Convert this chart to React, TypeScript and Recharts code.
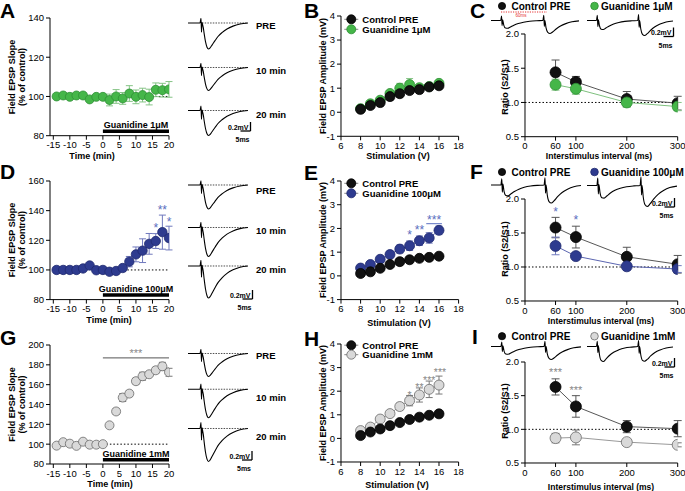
import React from 'react';
import {
  ComposedChart, LineChart, Line, XAxis, YAxis, ErrorBar,
  ReferenceLine, ReferenceDot, Legend,
} from 'recharts';

const FONT = '"Liberation Sans", Arial, Helvetica, sans-serif';

// ---- time course (A, D, G), % of control ----
const minutes = [-14, -12, -10, -8, -6, -4, -2, 0, 2, 4, 6, 8, 10, 12, 14, 16, 18, 20];
const slope1uM = [100, 100.5, 99.8, 100.5, 100.5, 98.5, 99.8, 99.8, 98.2, 100, 99, 101.5, 99.8, 100.7, 99.7, 103.4, 103.2, 103.6];
const slope1uMErr = [0.5, 0.5, 0.5, 0.5, 0.5, 0.8, 0.6, 0.6, 3, 3.5, 3, 4, 3.5, 3.5, 4, 3.5, 3.5, 4];
const slope100uM = [100, 100, 100, 100, 101, 103, 99.8, 100, 98.8, 99.3, 101.3, 105.6, 110.5, 113, 117.6, 119.5, 125.5, 121.5];
const slope100uMErr = [0.5, 0.5, 0.5, 0.5, 1, 1.5, 1, 1, 2, 2, 2, 3.5, 5, 8, 7, 5, 11.5, 8];
const slope1mM = [98.5, 102, 100.5, 98.3, 102.5, 99.5, 99.5, 100, 119, 133, 147, 151, 163.5, 168.5, 170.5, 174.5, 178.5, 172.5];
const slope1mMErr = [1, 1, 1, 1, 1, 1, 1, 1, 2, 3, 4, 3, 3, 4, 2, 3, 4, 4];

// ---- input/output (B, E, H), mV ----
const volts = [8, 9, 10, 11, 12, 13, 14, 15, 16];
const ioCtrlB = [0.12, 0.28, 0.4, 0.65, 0.77, 0.9, 0.94, 1.05, 1.1];
const ioCtrlBErr = [0.05, 0.05, 0.06, 0.08, 0.08, 0.08, 0.08, 0.06, 0.06];
const ioDrugB = [0.15, 0.35, 0.5, 0.78, 1.0, 1.15, 1.02, 1.07, 1.2];
const ioDrugBErr = [0.05, 0.06, 0.08, 0.12, 0.2, 0.25, 0.12, 0.08, 0.08];
const ioCtrlE = [0.1, 0.17, 0.32, 0.48, 0.6, 0.68, 0.74, 0.78, 0.83];
const ioCtrlEErr = [0.04, 0.04, 0.05, 0.05, 0.05, 0.05, 0.05, 0.05, 0.05];
const ioDrugE = [0.33, 0.48, 0.7, 0.9, 1.13, 1.27, 1.48, 1.6, 1.92];
const ioDrugEErr = [0.1, 0.12, 0.13, 0.15, 0.17, 0.2, 0.2, 0.22, 0.18];
const ioCtrlH = [0.12, 0.27, 0.4, 0.54, 0.67, 0.8, 0.9, 0.98, 1.04];
const ioCtrlHErr = [0.04, 0.04, 0.05, 0.05, 0.05, 0.05, 0.06, 0.06, 0.06];
const ioDrugH = [0.33, 0.48, 0.82, 1.05, 1.35, 1.6, 1.84, 2.08, 2.26];
const ioDrugHErr = [0.05, 0.06, 0.08, 0.12, 0.15, 0.22, 0.3, 0.35, 0.38];

// ---- paired pulse ratio (C, F, I) ----
const isi = [60, 100, 200, 300];
const ppfCtrlC = [1.44, 1.3, 1.05, 0.99];
const ppfCtrlCErr = [0.18, 0.08, 0.11, 0.1];
const ppfDrugC = [1.26, 1.2, 1.0, 0.94];
const ppfDrugCErr = [0.08, 0.08, 0.07, 0.06];
const ppfCtrlF = [1.58, 1.44, 1.15, 1.04];
const ppfCtrlFErr = [0.15, 0.16, 0.14, 0.13];
const ppfDrugF = [1.31, 1.16, 1.01, 0.97];
const ppfDrugFErr = [0.13, 0.03, 0.03, 0.05];
const ppfCtrlI = [1.63, 1.34, 1.04, 1.01];
const ppfCtrlIErr = [0.12, 0.16, 0.09, 0.12];
const ppfDrugI = [0.87, 0.88, 0.81, 0.77];
const ppfDrugIErr = [0.07, 0.11, 0.05, 0.03];

// ---- example traces, normalised so the peak is -1 ----
const epspTime = [0, 12, 13, 13.5, 14, 14.6, 15.3, 16.2, 17.5, 19, 20.5, 22, 24, 27, 30, 34, 39, 45, 52, 60];
const epspShape = [0, 0, 0.18, -0.35, 0.02, -0.06, -0.18, -0.42, -0.72, -0.93, -1, -0.96, -0.85, -0.68, -0.52, -0.37, -0.23, -0.12, -0.04, 0];
const ppTime = [0, 11, 12, 12.6, 13.2, 14.5, 16.5, 19, 22, 26, 31, 37, 44, 52, 59, 60, 60.6, 61.2, 62.5, 64.5, 67, 70, 74, 79, 85, 92, 100];
const ppFacilitated = [0, 0, 0.35, -0.4, 0.05, -0.35, -0.58, -0.6, -0.5, -0.36, -0.23, -0.13, -0.06, -0.02, 0, 0.4, -0.45, 0, -0.55, -0.92, -1, -0.88, -0.65, -0.42, -0.24, -0.1, -0.03];
const ppDepressed = [0, 0, 0.35, -0.4, 0.05, -0.55, -0.93, -1, -0.84, -0.6, -0.38, -0.22, -0.1, -0.04, 0, 0.4, -0.45, 0, -0.55, -0.92, -0.98, -0.86, -0.63, -0.4, -0.23, -0.1, -0.03];

// significance marks
const starsD = [{ x: 16, y: 128, t: '*' }, { x: 18, y: 140, t: '**' }, { x: 20, y: 132.3, t: '*' }];
const starsE = [{ x: 13, y: 1.72, t: '*' }, { x: 14, y: 1.93, t: '**' }, { x: 15.5, y: 2.35, t: '***' }];
const starsH = [{ x: 13, y: 1.8, t: '*' }, { x: 14, y: 2.16, t: '**' }, { x: 15, y: 2.45, t: '***' }, { x: 16.1, y: 2.76, t: '***' }];
const starsF = [{ x: 60, y: 1.81, t: '*' }, { x: 100, y: 1.69, t: '*' }];
const starsI = [{ x: 60, y: 1.84, t: '***' }, { x: 100, y: 1.58, t: '***' }];
const starsG = [{ x: 10, y: 191, t: '***' }];

const GREEN = { fill: '#45b649', stroke: '#2f8f35', err: '#86c486', line: '#7dc07d' };
const BLUE = { fill: '#2e3b8f', stroke: '#1f2a6e', err: '#6f78bd', line: '#5a64b0' };
const GREY = { fill: '#d9d9d9', stroke: '#6a6a6a', err: '#777', line: '#999' };
const BLACK = { fill: '#111', stroke: '#000', err: '#555', line: '#555' };

type Row = { x: number; y: number; e: number };
const rows = (xs: number[], ys: number[], es: number[]): Row[] => xs.map((x, i) => ({ x, y: ys[i], e: es[i] }));

type Rect = { l: number; t: number; r: number; b: number };
type Series = { data: Row[]; col: typeof GREEN; r: number; cap: number; connect: boolean };
type Star = { x: number; y: number; t: string };
type LegendItem = { mx: number; tx: number; y: number; label: string; col: typeof GREEN; r: number; line?: boolean; size: number };

const YW = 34;
const PAD = 8;
const XH = 18;
const tickStyle = { fontSize: 9.5, fill: '#000', fontFamily: FONT };

const starLabel = (t: string, color: string, size: number) => (p: any) => (
  <text x={p.viewBox.x} y={p.viewBox.y + size * 0.3} textAnchor="middle" fill={color}
    fontSize={size} fontFamily={FONT}>{t}</text>
);

function Plot(props: {
  rect: Rect; xDomain: [number, number]; xTicks: number[]; yDomain: [number, number]; yTicks: number[];
  decimals?: number; series: Series[]; stars?: Star[]; starColor?: string; starSize?: number;
  legend?: LegendItem[]; extras?: React.ReactNode;
}) {
  const { rect } = props;
  const ox = rect.l - YW;
  const oy = rect.t - PAD;
  const width = rect.r - rect.l + YW + PAD;
  const height = rect.b - rect.t + PAD + XH;
  const legend = props.legend;
  return (
    <div style={{ position: 'absolute', left: ox, top: oy }}>
      <ComposedChart width={width} height={height} margin={{ top: PAD, right: PAD, bottom: 0, left: 0 }}>
        <XAxis type="number" dataKey="x" domain={props.xDomain} ticks={props.xTicks} interval={0}
          allowDataOverflow tick={tickStyle} tickSize={4} height={XH} stroke="#000" />
        <YAxis type="number" domain={props.yDomain} ticks={props.yTicks} interval={0} allowDataOverflow
          width={YW} tick={tickStyle} tickSize={4} stroke="#000"
          tickFormatter={(v: number) => (props.decimals ? v.toFixed(props.decimals) : String(v))} />
        {props.extras}
        {props.series.map((s, i) => (
          <Line key={i} data={s.data} dataKey="y" type="linear" isAnimationActive={false} legendType="none"
            stroke={s.connect ? s.col.line : 'none'} strokeWidth={1}
            dot={{ r: s.r, fill: s.col.fill, stroke: s.col.stroke, strokeWidth: 0.8 }} activeDot={false}>
            <ErrorBar dataKey="e" direction="y" width={s.cap} stroke={s.col.err} strokeWidth={1} />
          </Line>
        ))}
        {(props.stars || []).map((s, i) => (
          <ReferenceDot key={'s' + i} x={s.x} y={s.y} r={0} fill="none" stroke="none"
            label={starLabel(s.t, props.starColor || '#000', props.starSize || 12)} />
        ))}
        {legend && (
          <Legend layout="horizontal" verticalAlign="middle" align="center"
            wrapperStyle={{ left: 0, top: 0, width, height, pointerEvents: 'none', overflow: 'visible' }}
            content={() => (
              <svg width={width} height={height} style={{ position: 'absolute', left: 0, top: 0, overflow: 'visible' }}>
                {legend.map((it) => (
                  <g key={it.label}>
                    {it.line && <line x1={it.mx - ox - 7} x2={it.mx - ox + 7} y1={it.y - oy} y2={it.y - oy} stroke="#888" strokeWidth={1} />}
                    <circle cx={it.mx - ox} cy={it.y - oy} r={it.r} fill={it.col.fill} stroke={it.col.stroke} strokeWidth={0.8} />
                    <text x={it.tx - ox} y={it.y - oy + it.size * 0.36} fontSize={it.size} fontWeight="bold" fontFamily={FONT} fill="#000">{it.label}</text>
                  </g>
                ))}
              </svg>
            )} />
        )}
      </ComposedChart>
    </div>
  );
}

function Trace(props: { time: number[]; shape: number[]; left: number; width: number; base: number; amp: number; dashFrom?: number }) {
  const { time, shape, amp } = props;
  const data = time.map((t, i) => ({ t, v: shape[i] }));
  const end = time[time.length - 1];
  return (
    <div style={{ position: 'absolute', left: props.left, top: props.base - 0.5 * amp }}>
      <LineChart width={props.width} height={amp * 1.6} data={data} margin={{ top: 0, right: 0, bottom: 0, left: 0 }}>
        <XAxis type="number" dataKey="t" domain={[time[0], end]} hide />
        <YAxis type="number" domain={[-1.1, 0.5]} hide />
        {props.dashFrom !== undefined && (
          <ReferenceLine segment={[{ x: props.dashFrom, y: 0 }, { x: end, y: 0 }]} stroke="#222"
            strokeDasharray="1.5 1.2" strokeWidth={0.8} />
        )}
        <Line dataKey="v" type="monotone" stroke="#000" strokeWidth={1.1} dot={false} isAnimationActive={false} />
      </LineChart>
    </div>
  );
}

const barLabel = (text: string) => ({ value: text, position: 'top' as const, offset: 3, fill: '#000', fontSize: 9, fontWeight: 'bold', fontFamily: FONT });

function timeCourseExtras(barY: number, drug: string, sig?: number) {
  return [
    <ReferenceLine key="base" segment={[{ x: 0, y: 100 }, { x: 20, y: 100 }]} stroke="#000" strokeDasharray="1.5 2" strokeWidth={1} />,
    <ReferenceLine key="bar" segment={[{ x: 0, y: barY }, { x: 20, y: barY }]} stroke="#000" strokeWidth={3.5} label={barLabel(drug)} />,
    sig !== undefined ? <ReferenceLine key="sig" segment={[{ x: 0, y: sig }, { x: 20, y: sig }]} stroke="#555" strokeWidth={1} /> : null,
  ];
}

const TC_X: [number, number] = [-16, 20];
const TC_TICKS = [-15, -10, -5, 0, 5, 10, 15, 20];
const IO_X: [number, number] = [6, 18];
const IO_XT = [6, 8, 10, 12, 14, 16, 18];
const IO_Y: [number, number] = [-1, 4];
const IO_YT = [-1, 0, 1, 2, 3, 4];
const PP_X: [number, number] = [0, 300];
const PP_XT = [0, 60, 100, 200, 300];
const PP_Y: [number, number] = [0.5, 2];
const PP_YT = [0.5, 1, 1.5, 2];

const rA = { l: 50, t: 18.3, r: 169, b: 136 };
const rB = { l: 340.7, t: 15.7, r: 458.3, b: 136 };
const rC = { l: 525, t: 34, r: 677.7, b: 136.7 };
const rD = { l: 50, t: 180.7, r: 169, b: 299.3 };
const rE = { l: 340.7, t: 180.7, r: 458.3, b: 299.3 };
const rF = { l: 525, t: 199, r: 677.7, b: 301 };
const rG = { l: 50, t: 345, r: 169, b: 464 };
const rH = { l: 340.7, t: 344.3, r: 458.3, b: 462.3 };
const rI = { l: 525, t: 362.3, r: 677.7, b: 463.3 };

const ioLegend = (y1: number, y2: number, drug: string, col: typeof GREEN): LegendItem[] => [
  { mx: 351, tx: 362, y: y1, label: 'Control PRE', col: BLACK, r: 4.5, line: true, size: 9.5 },
  { mx: 351, tx: 362, y: y2, label: drug, col, r: 4.5, line: true, size: 9.5 },
];
const ppLegend = (y: number, drug: string, col: typeof GREEN): LegendItem[] => [
  { mx: 502, tx: 511.5, y, label: 'Control PRE', col: BLACK, r: 3.6, size: 10 },
  { mx: 594.5, tx: 601, y, label: drug, col, r: 3.8, size: 10 },
];

function Txt(p: { x: number; y: number; s: string; size?: number; anchor?: 'start' | 'middle' | 'end'; rot?: boolean; weight?: string; fill?: string }) {
  return (
    <text x={p.rot ? 0 : p.x} y={p.rot ? 0 : p.y} transform={p.rot ? `translate(${p.x},${p.y}) rotate(-90)` : undefined}
      textAnchor={p.anchor || 'start'} fontSize={p.size || 9} fontWeight={p.weight || 'bold'} fontFamily={FONT} fill={p.fill || '#000'}>
      {p.s}
    </text>
  );
}

function ScaleBar({ x, y }: { x: number; y: number }) {
  // x = vertical bar position, y = bottom of the bar
  return (
    <g>
      <Txt x={x - 2} y={y - 1.5} s="0.2mV" size={7} anchor="end" />
      <line x1={x} x2={x} y1={y - 9} y2={y} stroke="#000" strokeWidth={1.3} />
      <line x1={x - 10} x2={x} y1={y} y2={y} stroke="#000" strokeWidth={1.3} />
      <Txt x={x - 8} y={y + 11} s="5ms" size={7} anchor="middle" />
    </g>
  );
}

export default function App() {
  return (
    <div style={{ position: 'absolute', left: 0, top: 0, width: 685, height: 491, background: '#fff', overflow: 'hidden' }}>
      {/* time course */}
      <Plot rect={rA} xDomain={TC_X} xTicks={TC_TICKS} yDomain={[80, 140]} yTicks={[80, 100, 120, 140]}
        extras={timeCourseExtras(82.2, 'Guanidine 1μM')}
        series={[{ data: rows(minutes, slope1uM, slope1uMErr), col: GREEN, r: 4.5, cap: 3.5, connect: false }]} />
      <Plot rect={rD} xDomain={TC_X} xTicks={TC_TICKS} yDomain={[80, 160]} yTicks={[80, 100, 120, 140, 160]}
        extras={timeCourseExtras(83.1, 'Guanidine 100μM')}
        series={[{ data: rows(minutes, slope100uM, slope100uMErr), col: BLUE, r: 4.7, cap: 3.5, connect: false }]}
        stars={starsD} starColor="#5b6fc0" starSize={12} />
      <Plot rect={rG} xDomain={TC_X} xTicks={TC_TICKS} yDomain={[80, 200]} yTicks={[80, 100, 120, 140, 160, 180, 200]}
        extras={timeCourseExtras(84.3, 'Guanidine 1mM', 187)}
        series={[{ data: rows(minutes, slope1mM, slope1mMErr), col: GREY, r: 4.5, cap: 3.5, connect: false }]}
        stars={starsG} starColor="#888" starSize={11} />

      {/* input / output */}
      <Plot rect={rB} xDomain={IO_X} xTicks={IO_XT} yDomain={IO_Y} yTicks={IO_YT}
        series={[
          { data: rows(volts, ioDrugB, ioDrugBErr), col: GREEN, r: 5, cap: 3.5, connect: true },
          { data: rows(volts, ioCtrlB, ioCtrlBErr), col: BLACK, r: 5, cap: 3.5, connect: true },
        ]}
        legend={ioLegend(19, 29, 'Guanidine 1μM', GREEN)} />
      <Plot rect={rE} xDomain={IO_X} xTicks={IO_XT} yDomain={IO_Y} yTicks={IO_YT}
        extras={<ReferenceLine segment={[{ x: 14.7, y: 2.2 }, { x: 16.3, y: 2.2 }]} stroke="#5b6fc0" strokeWidth={1} />}
        series={[
          { data: rows(volts, ioDrugE, ioDrugEErr), col: BLUE, r: 5, cap: 3.5, connect: true },
          { data: rows(volts, ioCtrlE, ioCtrlEErr), col: BLACK, r: 5, cap: 3.5, connect: true },
        ]}
        stars={starsE} starColor="#5b6fc0" starSize={12}
        legend={ioLegend(183, 193, 'Guanidine 100μM', BLUE)} />
      <Plot rect={rH} xDomain={IO_X} xTicks={IO_XT} yDomain={IO_Y} yTicks={IO_YT}
        series={[
          { data: rows(volts, ioDrugH, ioDrugHErr), col: GREY, r: 5, cap: 3.5, connect: true },
          { data: rows(volts, ioCtrlH, ioCtrlHErr), col: BLACK, r: 5, cap: 3.5, connect: true },
        ]}
        stars={starsH} starColor="#888" starSize={10.5}
        legend={ioLegend(345.5, 355, 'Guanidine 1mM', GREY)} />

      {/* paired pulse */}
      <Plot rect={rC} xDomain={PP_X} xTicks={PP_XT} yDomain={PP_Y} yTicks={PP_YT} decimals={1}
        extras={<ReferenceLine y={1} stroke="#000" strokeDasharray="1.5 2" strokeWidth={1} />}
        series={[
          { data: rows(isi, ppfCtrlC, ppfCtrlCErr), col: BLACK, r: 5.5, cap: 4, connect: true },
          { data: rows(isi, ppfDrugC, ppfDrugCErr), col: GREEN, r: 5.5, cap: 4, connect: true },
        ]}
        legend={ppLegend(6, 'Guanidine 1μM', GREEN)} />
      <Plot rect={rF} xDomain={PP_X} xTicks={PP_XT} yDomain={PP_Y} yTicks={PP_YT} decimals={1}
        extras={<ReferenceLine y={1} stroke="#000" strokeDasharray="1.5 2" strokeWidth={1} />}
        series={[
          { data: rows(isi, ppfCtrlF, ppfCtrlFErr), col: BLACK, r: 5.5, cap: 4, connect: true },
          { data: rows(isi, ppfDrugF, ppfDrugFErr), col: BLUE, r: 5.5, cap: 4, connect: true },
        ]}
        stars={starsF} starColor="#5b6fc0" starSize={12}
        legend={ppLegend(172, 'Guanidine 100μM', BLUE)} />
      <Plot rect={rI} xDomain={PP_X} xTicks={PP_XT} yDomain={PP_Y} yTicks={PP_YT} decimals={1}
        extras={<ReferenceLine y={1} stroke="#000" strokeDasharray="1.5 2" strokeWidth={1} />}
        series={[
          { data: rows(isi, ppfCtrlI, ppfCtrlIErr), col: BLACK, r: 5.5, cap: 4, connect: true },
          { data: rows(isi, ppfDrugI, ppfDrugIErr), col: GREY, r: 5.5, cap: 4, connect: true },
        ]}
        stars={starsI} starColor="#888" starSize={11}
        legend={ppLegend(336.5, 'Guanidine 1mM', GREY)} />

      {/* example fEPSP traces */}
      <Trace time={epspTime} shape={epspShape} left={188} width={60} base={23} amp={26} dashFrom={14} />
      <Trace time={epspTime} shape={epspShape} left={188} width={60} base={67} amp={23} dashFrom={14} />
      <Trace time={epspTime} shape={epspShape} left={188} width={60} base={110} amp={25} dashFrom={14} />
      <Trace time={epspTime} shape={epspShape} left={188} width={60} base={185} amp={24} dashFrom={14} />
      <Trace time={epspTime} shape={epspShape} left={188} width={60} base={227} amp={29} dashFrom={14} />
      <Trace time={epspTime} shape={epspShape} left={188} width={60} base={266} amp={32} dashFrom={14} />
      <Trace time={epspTime} shape={epspShape} left={188} width={60} base={353} amp={23} dashFrom={14} />
      <Trace time={epspTime} shape={epspShape} left={188} width={60} base={389} amp={28.5} dashFrom={14} />
      <Trace time={epspTime} shape={epspShape} left={188} width={60} base={428} amp={33} dashFrom={14} />

      <Trace time={ppTime} shape={ppFacilitated} left={491} width={88} base={20.5} amp={13} />
      <Trace time={ppTime} shape={ppFacilitated} left={587} width={86} base={20.5} amp={15} />
      <Trace time={ppTime} shape={ppFacilitated} left={491} width={90} base={185} amp={18} />
      <Trace time={ppTime} shape={ppFacilitated} left={587} width={90} base={185} amp={21} />
      <Trace time={ppTime} shape={ppFacilitated} left={491} width={90} base={346.5} amp={13} />
      <Trace time={ppTime} shape={ppDepressed} left={587} width={86} base={346.5} amp={15} />

      <svg width={685} height={491} style={{ position: 'absolute', left: 0, top: 0, pointerEvents: 'none' }}>
        {/* panel letters */}
        <Txt x={0} y={18} s="A" size={21} />
        <Txt x={304} y={18} s="B" size={21} />
        <Txt x={470} y={18} s="C" size={21} />
        <Txt x={0} y={179} s="D" size={21} />
        <Txt x={304} y={180} s="E" size={21} />
        <Txt x={470} y={179} s="F" size={21} />
        <Txt x={0} y={345} s="G" size={21} />
        <Txt x={304} y={346} s="H" size={21} />
        <Txt x={472} y={344} s="I" size={21} />

        {/* axis titles */}
        <Txt x={15} y={77} s="Field EPSP Slope" rot anchor="middle" />
        <Txt x={25} y={77} s="(% of control)" rot anchor="middle" />
        <Txt x={15} y={240} s="Field EPSP Slope" rot anchor="middle" />
        <Txt x={25} y={240} s="(% of control)" rot anchor="middle" />
        <Txt x={15} y={404.5} s="Field EPSP Slope" rot anchor="middle" />
        <Txt x={25} y={404.5} s="(% of control)" rot anchor="middle" />
        <Txt x={92} y={158.5} s="Time (min)" anchor="middle" />
        <Txt x={109} y={323} s="Time (min)" anchor="middle" />
        <Txt x={110} y={487} s="Time (min)" anchor="middle" />

        <Txt x={326} y={76} s="Field EPSP Amplitude (mV)" rot anchor="middle" />
        <Txt x={326} y={240} s="Field EPSP Amplitude (mV)" rot anchor="middle" />
        <Txt x={326} y={403} s="Field EPSP Amplitude (mV)" rot anchor="middle" />
        <Txt x={398} y={159} s="Stimulation (V)" anchor="middle" />
        <Txt x={399} y={325.5} s="Stimulation (V)" anchor="middle" />
        <Txt x={397} y={487.5} s="Stimulation (V)" anchor="middle" />

        <Txt x={507.5} y={87} s="Ratio (S2/S1)" rot anchor="middle" />
        <Txt x={507.5} y={249} s="Ratio (S2/S1)" rot anchor="middle" />
        <Txt x={507.5} y={411} s="Ratio (S2/S1)" rot anchor="middle" />
        <Txt x={599} y={159} s="Interstimulus interval (ms)" anchor="middle" size={8.5} />
        <Txt x={601} y={323.5} s="Interstimulus interval (ms)" anchor="middle" size={8.5} />
        <Txt x={601} y={489.5} s="Interstimulus interval (ms)" anchor="middle" size={8.5} />

        {/* trace labels */}
        {[[29.3, 74, 117.5], [193.5, 234, 273], [358.5, 401, 440]].map((ys, i) => (
          <g key={i}>
            <Txt x={256} y={ys[0]} s="PRE" size={9.5} />
            <Txt x={256} y={ys[1]} s="10 min" size={9.5} />
            <Txt x={256} y={ys[2]} s="20 min" size={9.5} />
          </g>
        ))}
        <ScaleBar x={250.5} y={131} />
        <ScaleBar x={252.5} y={299} />
        <ScaleBar x={252} y={460} />
        <ScaleBar x={673.5} y={36.5} />
        <ScaleBar x={674.5} y={207} />
        <ScaleBar x={674.5} y={367} />

        {/* inter-pulse interval marker */}
        <line x1={501} x2={547} y1={12} y2={12} stroke="#e53030" strokeWidth={1} strokeDasharray="1.2 1.2" />
        <Txt x={521} y={17} s="60ms" size={4.5} anchor="middle" weight="normal" fill="#e53030" />
      </svg>
    </div>
  );
}
